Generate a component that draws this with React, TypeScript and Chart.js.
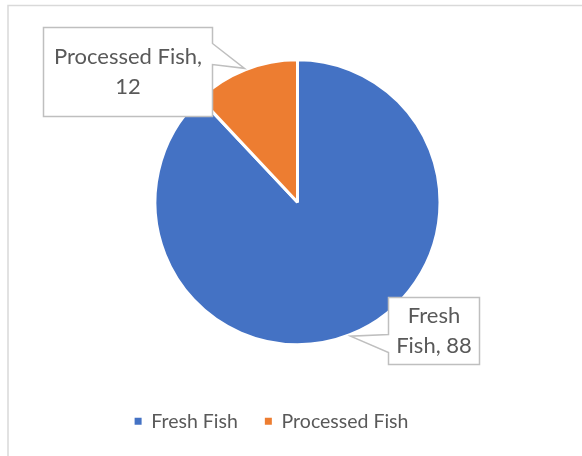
import React, { useEffect, useRef } from "react";
import { Chart, registerables } from "chart.js";

Chart.register(...registerables);

const categories: string[] = ["Fresh Fish", "Processed Fish"];
const values: number[] = [88, 12];
const sliceColors: string[] = ["#4472C4", "#ED7D31"];

const TEXT_COLOR = "#595959";
const FONT_FAMILY = "Lato, 'Noto Sans', sans-serif";

// callout layout per slice (relative to the slice's outer edge mid-point)
const calloutLayout = [
  // Fresh Fish: box to the right of the tip, tail on left edge
  { dx: 37.5, dy: -39, w: 91, h: 67, side: "left", t1: 37, t2: 55, wrap: 100 },
  // Processed Fish: box left of the tip, tail on right edge
  { dx: -201.5, dy: -41, w: 169, h: 89, side: "right", t1: 16, t2: 37, wrap: 160 },
];

function wrapText(ctx: CanvasRenderingContext2D, text: string, maxW: number): string[] {
  const words = text.split(" ");
  const lines: string[] = [];
  let cur = "";
  for (const w of words) {
    const test = cur ? cur + " " + w : w;
    if (cur && ctx.measureText(test).width > maxW) {
      lines.push(cur);
      cur = w;
    } else {
      cur = test;
    }
  }
  if (cur) lines.push(cur);
  return lines;
}

const framePlugin = {
  id: "frame",
  afterLayout(chart: any) {
    if (chart.legend) {
      chart.legend.left -= 26;
      chart.legend.right -= 26;
    }
  },
  beforeDraw(chart: any) {
    const { ctx, width, height } = chart;
    ctx.save();
    ctx.fillStyle = "#FFFFFF";
    ctx.fillRect(0, 0, width, height);
    ctx.strokeStyle = "#D9D9D9";
    ctx.lineWidth = 1.5;
    ctx.strokeRect(8, 5.5, width + 20, height + 20);
    ctx.restore();
  },
};

const calloutPlugin = {
  id: "callouts",
  afterDatasetsDraw(chart: any) {
    const { ctx } = chart;
    const meta = chart.getDatasetMeta(0);
    const labels = chart.data.labels as string[];
    const data = chart.data.datasets[0].data as number[];
    ctx.save();
    ctx.font = `22px ${FONT_FAMILY}`;
    meta.data.forEach((arc: any, i: number) => {
      const p = arc.getProps(["x", "y", "startAngle", "endAngle", "outerRadius"], true);
      const mid = (p.startAngle + p.endAngle) / 2;
      const tx = p.x + Math.cos(mid) * (p.outerRadius + 1.5);
      const ty = p.y + Math.sin(mid) * (p.outerRadius + 1.5);
      const L = calloutLayout[i];
      const left = Math.round(tx + L.dx) + 0.5;
      const top = Math.round(ty + L.dy) + 0.5;
      const right = left + L.w;
      const bottom = top + L.h;
      ctx.beginPath();
      if (L.side === "right") {
        ctx.moveTo(left, top);
        ctx.lineTo(right, top);
        ctx.lineTo(right, top + L.t1);
        ctx.lineTo(tx, ty);
        ctx.lineTo(right, top + L.t2);
        ctx.lineTo(right, bottom);
        ctx.lineTo(left, bottom);
        ctx.closePath();
      } else {
        ctx.moveTo(left, top);
        ctx.lineTo(right, top);
        ctx.lineTo(right, bottom);
        ctx.lineTo(left, bottom);
        ctx.lineTo(left, top + L.t2);
        ctx.lineTo(tx, ty);
        ctx.lineTo(left, top + L.t1);
        ctx.closePath();
      }
      ctx.fillStyle = "#FFFFFF";
      ctx.fill();
      ctx.strokeStyle = "#BFBFBF";
      ctx.lineWidth = 1.5;
      ctx.stroke();

      const lines = wrapText(ctx, `${labels[i]}, ${data[i]}`, L.wrap);
      const lh = 30;
      const cx = left + L.w / 2;
      const cy = top + L.h / 2;
      ctx.fillStyle = TEXT_COLOR;
      ctx.textAlign = "center";
      ctx.textBaseline = "middle";
      lines.forEach((ln, k) => {
        ctx.fillText(ln, cx, cy + (k - (lines.length - 1) / 2) * lh);
      });
    });
    ctx.restore();
  },
};

export default function App() {
  const ref = useRef<HTMLCanvasElement | null>(null);
  useEffect(() => {
    document.body.style.margin = "0";
    if (!ref.current) return;
    const chart = new Chart(ref.current, {
      type: "pie",
      data: {
        labels: categories,
        datasets: [
          {
            data: values,
            backgroundColor: sliceColors,
            borderColor: "#FFFFFF",
            borderWidth: 3,
          },
        ],
      },
      options: {
        responsive: false,
        animation: false,
        radius: 142.5,
        layout: { padding: { top: 20, left: 13, right: 0, bottom: 15 } },
        plugins: {
          tooltip: { enabled: false },
          legend: {
            position: "bottom",
            labels: {
              boxWidth: 7,
              boxHeight: 7,
              padding: 27,
              color: TEXT_COLOR,
              font: { family: FONT_FAMILY, size: 19.5 },
              generateLabels: () =>
                categories.map((t, i) => ({
                  text: t,
                  fillStyle: sliceColors[i],
                  strokeStyle: sliceColors[i],
                  lineWidth: 0,
                  hidden: false,
                  index: i,
                  fontColor: TEXT_COLOR,
                })),
            },
          },
        },
      } as any,
      plugins: [framePlugin, calloutPlugin],
    });
    return () => chart.destroy();
  }, []);
  return (
    <div style={{ position: "absolute", left: 0, top: 0, width: 582, height: 456 }}>
      <canvas ref={ref} width={582} height={456} />
    </div>
  );
}
